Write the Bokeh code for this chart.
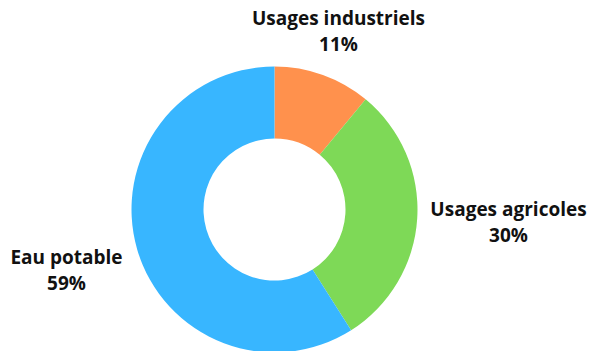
import math
from bokeh.plotting import figure
from bokeh.models import ColumnDataSource
from bokeh.core.properties import value
from bokeh.embed import file_html
from bokeh.resources import INLINE

categories = ["Usages industriels", "Usages agricoles", "Eau potable"]
shares = [11, 30, 59]
colors = ["#FF914D", "#7ED957", "#38B6FF"]

# label layout (pixel positions inside the figure, y measured from top)
label_x = [338, 508, 66]
label_y_top = [17, 208, 256]

W, H = 591, 351
p = figure(width=W, height=H, x_range=(0, W), y_range=(0, H),
           output_backend="svg", toolbar_location=None, min_border=0)
p.axis.visible = False
p.grid.visible = False
p.outline_line_color = None
p.background_fill_color = "white"
p.border_fill_color = "white"

total = sum(shares)
starts, ends = [], []
cum = 0.0
for s in shares:
    starts.append(math.pi / 2 - cum / total * 2 * math.pi)
    cum += s
    ends.append(math.pi / 2 - cum / total * 2 * math.pi)

src = ColumnDataSource(dict(start=starts, end=ends, color=colors, cat=categories))
cx, cy = 274, H - 209
p.annular_wedge(x=cx, y=cy, inner_radius=71, outer_radius=143,
                start_angle="start", end_angle="end", direction="clock",
                fill_color="color", line_color=None, source=src)

pct = [f"{s}%" for s in shares]
ly = [H - v for v in label_y_top]
lsrc = ColumnDataSource(dict(x=label_x, y=ly, t=categories))
psrc = ColumnDataSource(dict(x=label_x, y=[v - 26 for v in ly], t=pct))
for s in (lsrc, psrc):
    p.text(x="x", y="y", text="t", source=s, text_align="center",
           text_baseline="middle", text_font=value("Open Sans"),
           text_font_style="bold", text_font_size="19px", text_color="#111111")

open("out.html", "w").write(file_html(p, INLINE))
